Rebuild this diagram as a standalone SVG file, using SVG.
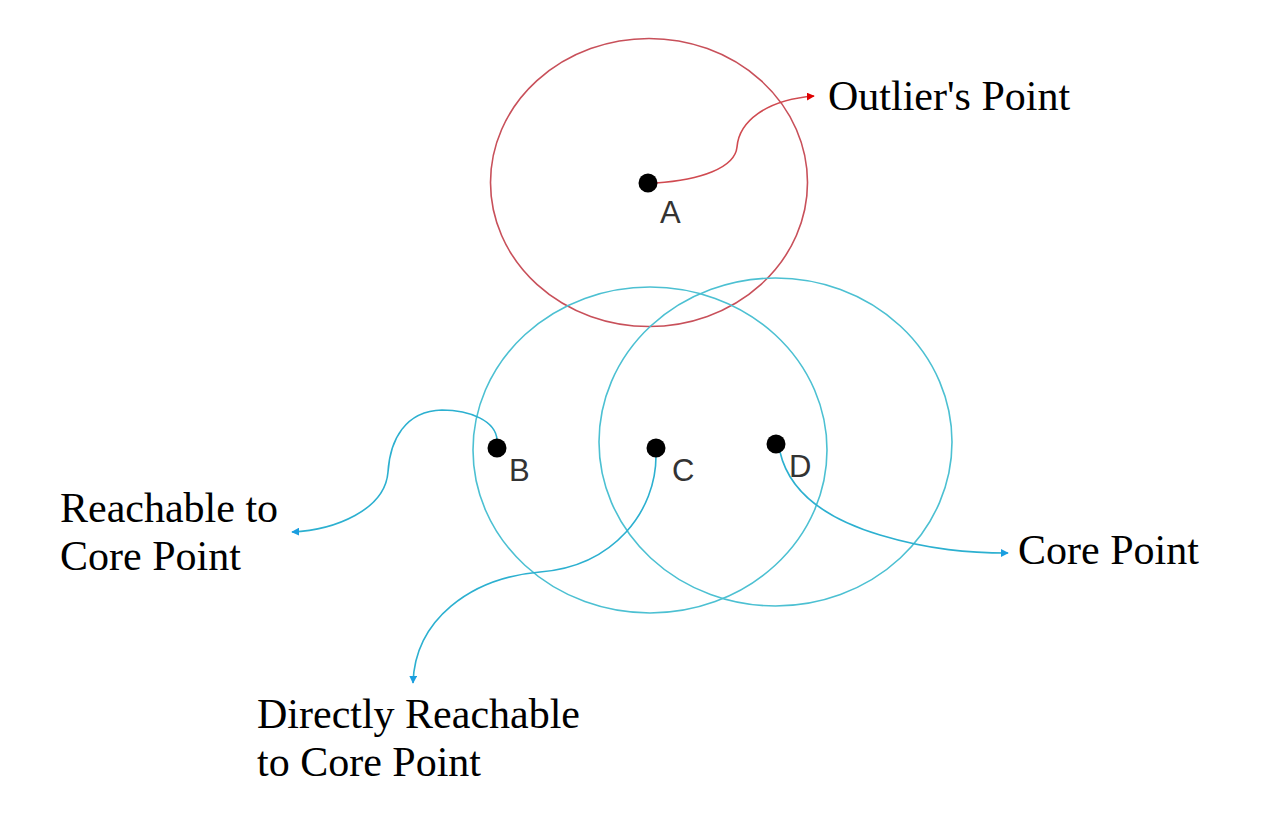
<svg xmlns="http://www.w3.org/2000/svg" width="1280" height="818" viewBox="0 0 1280 818">
  <defs>
    <style>
      .ring-red { fill: none; stroke: #c8505a; stroke-width: 1.6; }
      .ring-cyan { fill: none; stroke: #4cc0d2; stroke-width: 1.6; }
      .dot { fill: #000; }
      .pt { font-family: "Liberation Sans", "DejaVu Sans", sans-serif; font-size: 31px; font-weight: 300; fill: #333; }
      .lbl { font-family: "Liberation Serif", "Times New Roman", serif; font-size: 42px; fill: #000; }
      .con-red { fill: none; stroke: #d04a50; stroke-width: 1.6; }
      .con-cyan { fill: none; stroke: #2cb0d0; stroke-width: 1.6; }
    </style>
    <marker id="arrRed" viewBox="0 0 10 10" refX="9" refY="5" markerWidth="8" markerHeight="8" markerUnits="userSpaceOnUse" orient="auto">
      <path d="M0,0 L10,5 L0,10 z" fill="#e00000"/>
    </marker>
    <marker id="arrCyan" viewBox="0 0 10 10" refX="9" refY="5" markerWidth="8" markerHeight="8" markerUnits="userSpaceOnUse" orient="auto">
      <path d="M0,0 L10,5 L0,10 z" fill="#1a9ee0"/>
    </marker>
  </defs>
  <rect width="1280" height="818" fill="#fff"/>

  <g id="ring-A"><ellipse class="ring-red" cx="649" cy="182.5" rx="158.5" ry="144"/></g>
  <g id="ring-B"><ellipse class="ring-cyan" cx="650" cy="450" rx="177" ry="163"/></g>
  <g id="ring-D"><ellipse class="ring-cyan" cx="775.5" cy="442" rx="176.5" ry="164"/></g>

  <g id="connectors">
    <path class="con-red" d="M656,183 C700,180 735,168 737,147 C739,122 765,100 814,96" marker-end="url(#arrRed)"/>
    <path class="con-cyan" d="M497,440 C496,421 470,410 442,410 C405,411 390,440 388,472 C385,510 335,530 292,532" marker-end="url(#arrCyan)"/>
    <path class="con-cyan" d="M656,456 C656,510 615,566 540,572 C470,578 415,620 413,683" marker-end="url(#arrCyan)"/>
    <path class="con-cyan" d="M780,452 C790,495 830,520 880,535 C930,550 970,553 1008,553" marker-end="url(#arrCyan)"/>
  </g>

  <g id="node-A">
    <circle class="dot" cx="648" cy="183" r="9.5"/>
    <text class="pt" x="660" y="223">A</text>
  </g>
  <g id="node-B">
    <circle class="dot" cx="497" cy="448" r="9.5"/>
    <text class="pt" x="509" y="481">B</text>
  </g>
  <g id="node-C">
    <circle class="dot" cx="656" cy="448" r="9.5"/>
    <text class="pt" x="672" y="481">C</text>
  </g>
  <g id="node-D">
    <circle class="dot" cx="776" cy="444" r="9.5"/>
    <text class="pt" x="789" y="477">D</text>
  </g>

  <g id="label-outlier"><text class="lbl" x="828" y="110">Outlier's Point</text></g>
  <g id="label-reachable"><text class="lbl" x="60" y="522">Reachable to</text><text class="lbl" x="60" y="570">Core Point</text></g>
  <g id="label-core"><text class="lbl" x="1018" y="564">Core Point</text></g>
  <g id="label-direct"><text class="lbl" x="257" y="728">Directly Reachable</text><text class="lbl" x="257" y="776">to Core Point</text></g>
</svg>
